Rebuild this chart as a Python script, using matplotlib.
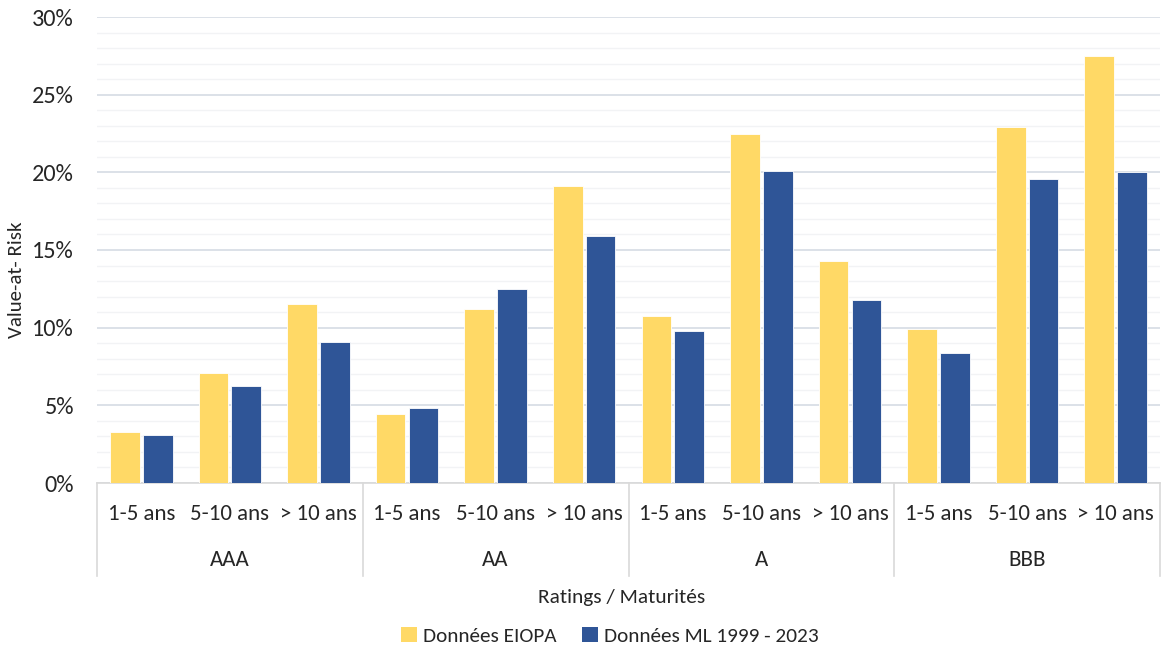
import matplotlib
matplotlib.use("Agg")
import matplotlib.pyplot as plt
import matplotlib.transforms as mtransforms
from matplotlib.ticker import MultipleLocator, FuncFormatter
from matplotlib.patches import Patch
import numpy as np

ratings = ["AAA", "AA", "A", "BBB"]
maturities = ["1-5 ans", "5-10 ans", "> 10 ans"]
eiopa = [3.26, 7.10, 11.52, 4.45, 11.19, 19.10, 10.75, 22.49, 14.32, 9.94, 22.92, 27.52]
ml = [3.09, 6.23, 9.07, 4.86, 12.48, 15.87, 9.80, 20.08, 11.78, 8.34, 19.57, 20.00]
series_names = ["Données EIOPA", "Données ML 1999 - 2023"]
colors = ["#FFD966", "#2F5597"]

plt.rcParams['font.family'] = ['Carlito', 'Liberation Sans Narrow', 'Liberation Sans', 'DejaVu Sans']

fig = plt.figure(figsize=(11.64, 6.49), dpi=100)
ax = fig.add_axes([97/1164, 1-483/649, (1160-97)/1164, (483-17)/649])

n = len(eiopa)
x = np.arange(n)
w = 0.335
off = 0.185
ax.bar(x - off, eiopa, w, color=colors[0], edgecolor="white", linewidth=0.6, zorder=3)
ax.bar(x + off, ml, w, color=colors[1], edgecolor="white", linewidth=0.6, zorder=3)

ax.set_xlim(-0.5, n - 0.5)
ax.set_ylim(0, 30)
ax.yaxis.set_major_locator(MultipleLocator(5))
ax.yaxis.set_minor_locator(MultipleLocator(1))
ax.yaxis.set_major_formatter(FuncFormatter(lambda v, p: f"{v:.0f}%"))
ax.grid(axis="y", which="major", color="#D9DEE6", linewidth=1.3, zorder=0)
ax.grid(axis="y", which="minor", color="#F2F3F5", linewidth=1.0, zorder=0)
ax.tick_params(axis="y", which="both", length=0, labelsize=17.5, pad=16.5, labelcolor="#262626")
ax.tick_params(axis="x", which="both", length=0, labelbottom=False)
for s in ["top", "right", "left"]:
    ax.spines[s].set_visible(False)
ax.spines["bottom"].set_color("#D9D9D9")
ax.spines["bottom"].set_linewidth(1.2)

fig.text(17/1164, 1 - 280/649, "Value-at- Risk", rotation=90, ha="center", va="center",
         fontsize=15, color="#262626")

trans = mtransforms.blended_transform_factory(ax.transData, ax.transAxes)
ax_h_px = 483 - 17
def ypos(py):
    return (483 - py) / ax_h_px

for i in range(n):
    ax.text(i, ypos(514), maturities[i % 3], transform=trans, ha="center", va="center",
            fontsize=16.5, color="#262626")
for g, r in enumerate(ratings):
    ax.text(g * 3 + 1, ypos(560), r, transform=trans, ha="center", va="center",
            fontsize=16.5, color="#262626")
for g in range(len(ratings) + 1):
    xb = g * 3 - 0.5
    ax.plot([xb, xb], [0, ypos(576)], transform=trans, color="#D9D9D9", linewidth=1.2,
            clip_on=False)

fig.text(622 / 1164, 1 - 597 / 649, "Ratings / Maturités", ha="center", va="center",
         fontsize=15.4, color="#262626")

handles = [Patch(facecolor=c, edgecolor="none") for c in colors]
fig.legend(handles, series_names, loc="center", bbox_to_anchor=(610 / 1164, 1 - 636 / 649),
           ncol=2, frameon=False, fontsize=15.3, handlelength=0.75, handleheight=0.75,
           handletextpad=0.3, columnspacing=1.2, labelcolor="#262626")

fig.savefig("out.png", dpi=100)
